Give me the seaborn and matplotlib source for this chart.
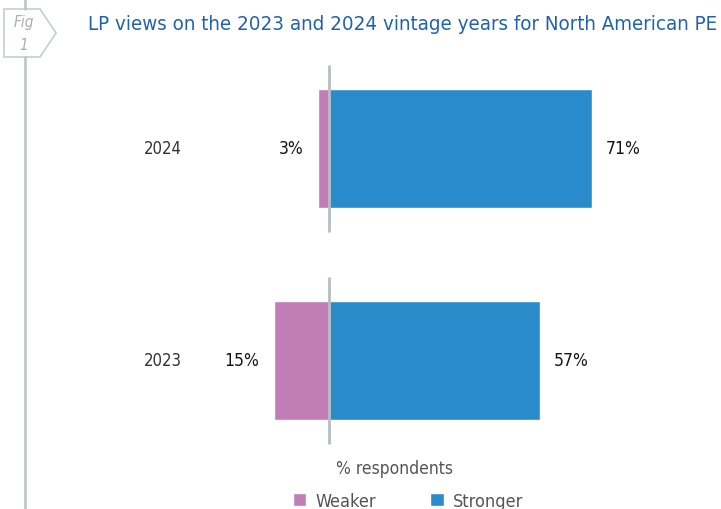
import matplotlib
matplotlib.use("Agg")
import matplotlib.pyplot as plt
from matplotlib.patches import Polygon
import seaborn as sns
import pandas as pd

# Survey results: share of LPs who expect each vintage to be weaker / stronger
years = ["2024", "2023"]
weaker = [3, 15]
stronger = [71, 57]
series = ["Weaker", "Stronger"]
colors = ["#C07DB6", "#2A8BCB"]

title = "LP views on the 2023 and 2024 vintage years for North American PE"
xlabel = "% respondents"

sns.set_theme(style="white")
plt.rcParams["font.family"] = ["DejaVu Sans"]
plt.rcParams["font.stretch"] = "condensed"

W, H = 721, 510
fig = plt.figure(figsize=(W / 100, H / 100), dpi=100)

# Long-form table; weaker answers plotted to the left of zero
df = pd.DataFrame({
    "year": years * 2,
    "view": [series[0]] * len(years) + [series[1]] * len(years),
    "value": [-v for v in weaker] + list(stronger),
})

ax = fig.add_axes([0, 0, 1, 1])
bar_w = 0.56
sns.barplot(data=df, x="value", y="year", hue="view", order=years,
            hue_order=series, palette=colors, dodge=False, width=bar_w,
            saturation=1, ax=ax, legend=True)

px = 3.70          # pixels per percentage point
x0 = 329           # pixel position of zero
ax.set_xlim(-x0 / px, (W - x0) / px)
pitch = 212
ax.set_ylim(1 + (H - 361.5) / pitch, -149.5 / pitch)
ax.axis("off")

# zero line, split per category
ext = bar_w / 2 + 24 / pitch
for i in range(len(years)):
    ax.vlines(0, i - ext, i + ext, color="#B4BCC4", lw=2, zorder=5)

# category and value labels
for i, y in enumerate(years):
    ax.text((182 - x0) / px, i, y, ha="right", va="center",
            fontsize=12, color="#333333")
    ax.annotate(f"{weaker[i]}%", (-weaker[i], i), xytext=(-10, 0),
                textcoords="offset points", ha="right", va="center",
                fontsize=12.5, color="#151515")
    ax.annotate(f"{stronger[i]}%", (stronger[i], i), xytext=(10, 0),
                textcoords="offset points", ha="left", va="center",
                fontsize=12.5, color="#151515")

ax.text(395 / W, 1 - 469 / H, xlabel, transform=ax.transAxes,
        ha="center", va="center", fontsize=12.5, color="#555555")

handles, labels = ax.get_legend_handles_labels()
ax.legend(handles, labels, ncol=2, loc="center",
          bbox_to_anchor=(408 / W, 1 - 502 / H), frameon=False,
          fontsize=13, handlelength=0.75, handleheight=0.75,
          handletextpad=0.5, columnspacing=3.0, labelcolor="#555555",
          borderpad=0)

# header decoration in pixel coordinates
deco = fig.add_axes([0, 0, 1, 1], zorder=10)
deco.set_xlim(0, W)
deco.set_ylim(H, 0)
deco.axis("off")
deco.patch.set_alpha(0)
deco.plot([24.5, 24.5], [0, 10], color="#C3C8CD", lw=2)
deco.plot([24.5, 24.5], [58, H], color="#C3C8CD", lw=2)
deco.add_patch(Polygon([(4, 10), (40, 10), (56, 34), (40, 58), (4, 58)],
                       closed=True, fill=False, ec="#C8CDD2", lw=1.2))
deco.text(24, 22, "Fig", ha="center", va="center", fontsize=11,
          style="italic", color="#A9AFB5")
deco.text(24, 45, "1", ha="center", va="center", fontsize=11,
          style="italic", color="#A9AFB5")
deco.text(88, 25, title, ha="left", va="center", fontsize=14.7,
          color="#1F62B0")

fig.savefig("out.png", dpi=100)
